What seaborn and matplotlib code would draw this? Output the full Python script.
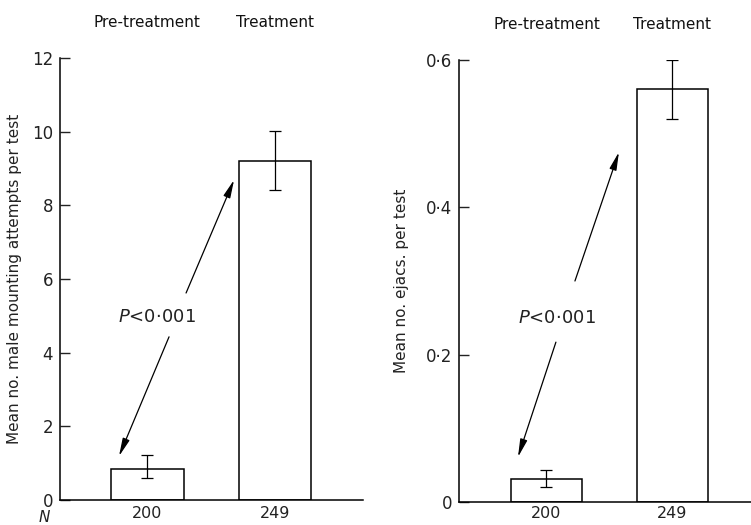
import matplotlib
matplotlib.use("Agg")
import matplotlib.pyplot as plt
import seaborn as sns
import pandas as pd
from matplotlib.ticker import FuncFormatter

# ---- data ----
phases = ["Pre-treatment", "Treatment"]
n_tests = ["200", "249"]
mount_mean = [0.84, 9.2]
mount_err_low = [0.23, 0.78]
mount_err_high = [0.38, 0.83]
ejac_mean = [0.031, 0.56]
ejac_err_low = [0.010, 0.04]
ejac_err_high = [0.012, 0.04]
mount_ticks = [0, 2, 4, 6, 8, 10, 12]
ejac_ticks = [0, 0.2, 0.4, 0.6]

sns.set_theme(style="white")
plt.rcParams["font.family"] = ["DejaVu Sans"]

fig = plt.figure(figsize=(7.51, 5.25), dpi=100)
ax1 = fig.add_axes([60/751, 25/525, 303/751, 442/525])
ax2 = fig.add_axes([459/751, 23/525, 292/751, 442/525])

def draw(ax, means, lo, hi, ylim, ticks, ylabel, fmt, xlim, width, cap, xpad):
    df = pd.DataFrame({"phase": phases, "mean": means})
    sns.barplot(data=df, x="phase", y="mean", ax=ax, color="white",
                edgecolor="black", linewidth=1.1, width=width, errorbar=None,
                saturation=1)
    ax.errorbar(range(len(means)), means, yerr=[lo, hi], fmt="none",
                ecolor="black", elinewidth=0.9, capsize=cap, capthick=0.9)
    ax.set_ylim(*ylim)
    ax.set_xlim(*xlim)
    ax.set_yticks(ticks)
    ax.yaxis.set_major_formatter(FuncFormatter(fmt))
    ax.set_xticks(range(len(n_tests)))
    ax.set_xticklabels(n_tests)
    ax.set_xlabel("")
    ax.set_ylabel(ylabel, fontsize=11, color="#222222")
    for s in ["top", "right"]:
        ax.spines[s].set_visible(False)
    for s in ["left", "bottom"]:
        ax.spines[s].set_color("black")
        ax.spines[s].set_linewidth(1.1)
    ax.tick_params(axis="y", direction="in", length=7, width=1, pad=5,
                   labelsize=12, colors="#222222", left=True)
    ax.tick_params(axis="x", length=0, pad=xpad, labelsize=11.5, colors="#222222")
    for i, p in enumerate(phases):
        ax.text(i, 1.08, p, transform=ax.get_xaxis_transform(), ha="center",
                va="center", fontsize=11, color="#111111")

def fmt_mount(v, pos):
    return f"{int(round(v))}"

def fmt_ejac(v, pos):
    return "0" if abs(v) < 1e-9 else f"{v:.1f}".replace(".", "·")

draw(ax1, mount_mean, mount_err_low, mount_err_high, (0, 12), mount_ticks,
     "Mean no. male mounting attempts per test", fmt_mount, (-0.68, 1.6875), 0.57, 4.5, 4)
draw(ax2, ejac_mean, ejac_err_low, ejac_err_high, (0, 0.6), ejac_ticks,
     "Mean no. ejacs. per test", fmt_ejac, (-0.694, 1.623), 0.56, 4.5, 3)

ax1.yaxis.set_label_coords(-0.125, 0.5)
ax2.yaxis.set_label_coords(-0.17, 0.5)

arrow = dict(arrowstyle="-|>,head_length=0.9,head_width=0.18", color="black",
             lw=0.9, shrinkA=0, shrinkB=0)

# left annotations
ax1.text(0.078, 4.97, "$P$<0·001", ha="center", va="center", fontsize=13,
         color="#222222")
ax1.annotate("", xy=(0.68, 8.69), xytext=(0.305, 5.62), arrowprops=arrow)
ax1.annotate("", xy=(-0.219, 1.19), xytext=(0.172, 4.43), arrowprops=arrow)

# right annotations
ax2.text(0.083, 0.250, "$P$<0·001", ha="center", va="center", fontsize=13,
         color="#222222")
ax2.annotate("", xy=(0.575, 0.475), xytext=(0.226, 0.300), arrowprops=arrow)
ax2.annotate("", xy=(-0.226, 0.061), xytext=(0.075, 0.217), arrowprops=arrow)

# N label
fig.text(44/751, 1 - 517/525, "N", style="italic", fontsize=11,
         ha="center", va="center", color="#222222")

fig.savefig("out.png", dpi=100)
